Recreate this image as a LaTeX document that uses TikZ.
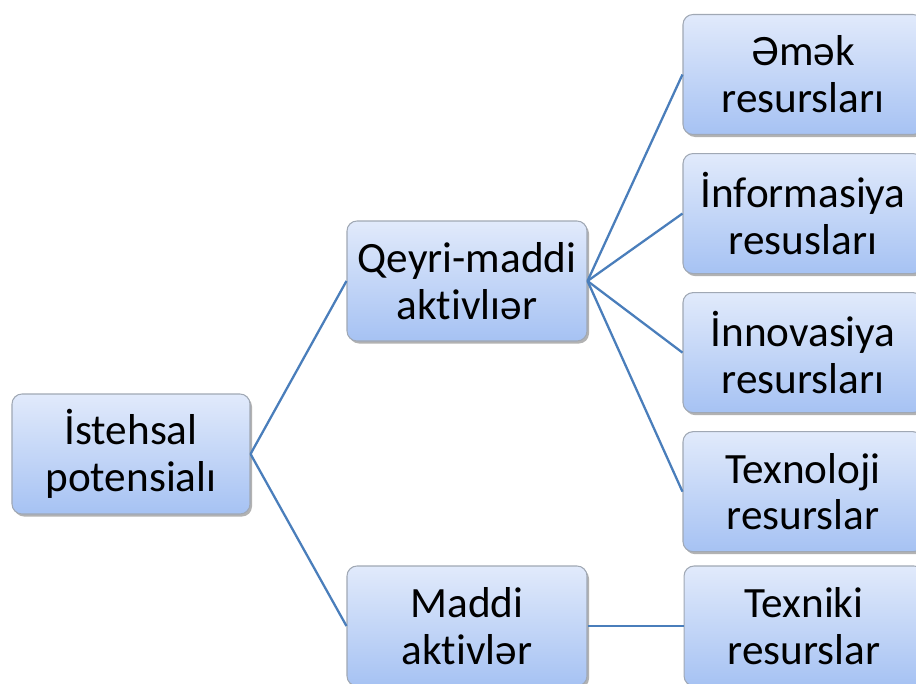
\documentclass[tikz,border=0pt]{standalone}
\usepackage{fontspec}
\setmainfont[Ligatures=NoCommon]{Carlito}
\usetikzlibrary{positioning,shadows}

\definecolor{boxtop}{HTML}{E1EAFB}
\definecolor{boxbottom}{HTML}{A6C2F3}
\definecolor{boxline}{HTML}{A0A8B4}
\definecolor{linkblue}{HTML}{4A7EBB}

\begin{document}
\begin{tikzpicture}[thick,
                    main node/.style={rectangle,rounded corners=0.2cm,draw=boxline,line width=0.6pt,
                                      top color=boxtop,bottom color=boxbottom,
                                      minimum width=4.8cm,minimum height=2.4cm,inner sep=0pt,
                                      align=center,font=\fontsize{24.6}{26.6}\selectfont,
                                      drop shadow={shadow xshift=0.04cm,shadow yshift=-0.05cm,opacity=0.3,fill=black}},
                    link/.style={draw=linkblue,line width=1.3pt}]
                    \useasboundingbox (0,0) rectangle (18.32,-13.68);
                    \node[main node,minimum width=4.76cm] (P) at (2.62,-9.08) {İstehsal\\potensialı};
                    \node[main node] (Q) at (9.34,-5.62) {Qeyri-maddi\\aktivlıər};
                    \node[main node] (M) at (9.34,-12.52) {Maddi\\aktivlər};
                    \node[main node] (E) at (16.06,-1.49) {Əmək\\resursları};
                    \node[main node] (I) [below=0.36cm of E] {İnformasiya\\resusları};
                    \node[main node] (N) [below=0.36cm of I] {İnnovasiya\\resursları};
                    \node[main node] (T) [below=0.36cm of N] {Texnoloji\\resurslar};
                    \node[main node] (X) [right=1.92cm of M] {Texniki\\resurslar};
                    \path[link]
                        (P.east) edge (Q.west)
                        (P.east) edge (M.west)

                        (Q.east) edge (E.west)
                        (Q.east) edge (I.west)
                        (Q.east) edge (N.west)
                        (Q.east) edge (T.west)

                        (M.east) edge (X.west)
                        ;
                \end{tikzpicture}
\end{document}
